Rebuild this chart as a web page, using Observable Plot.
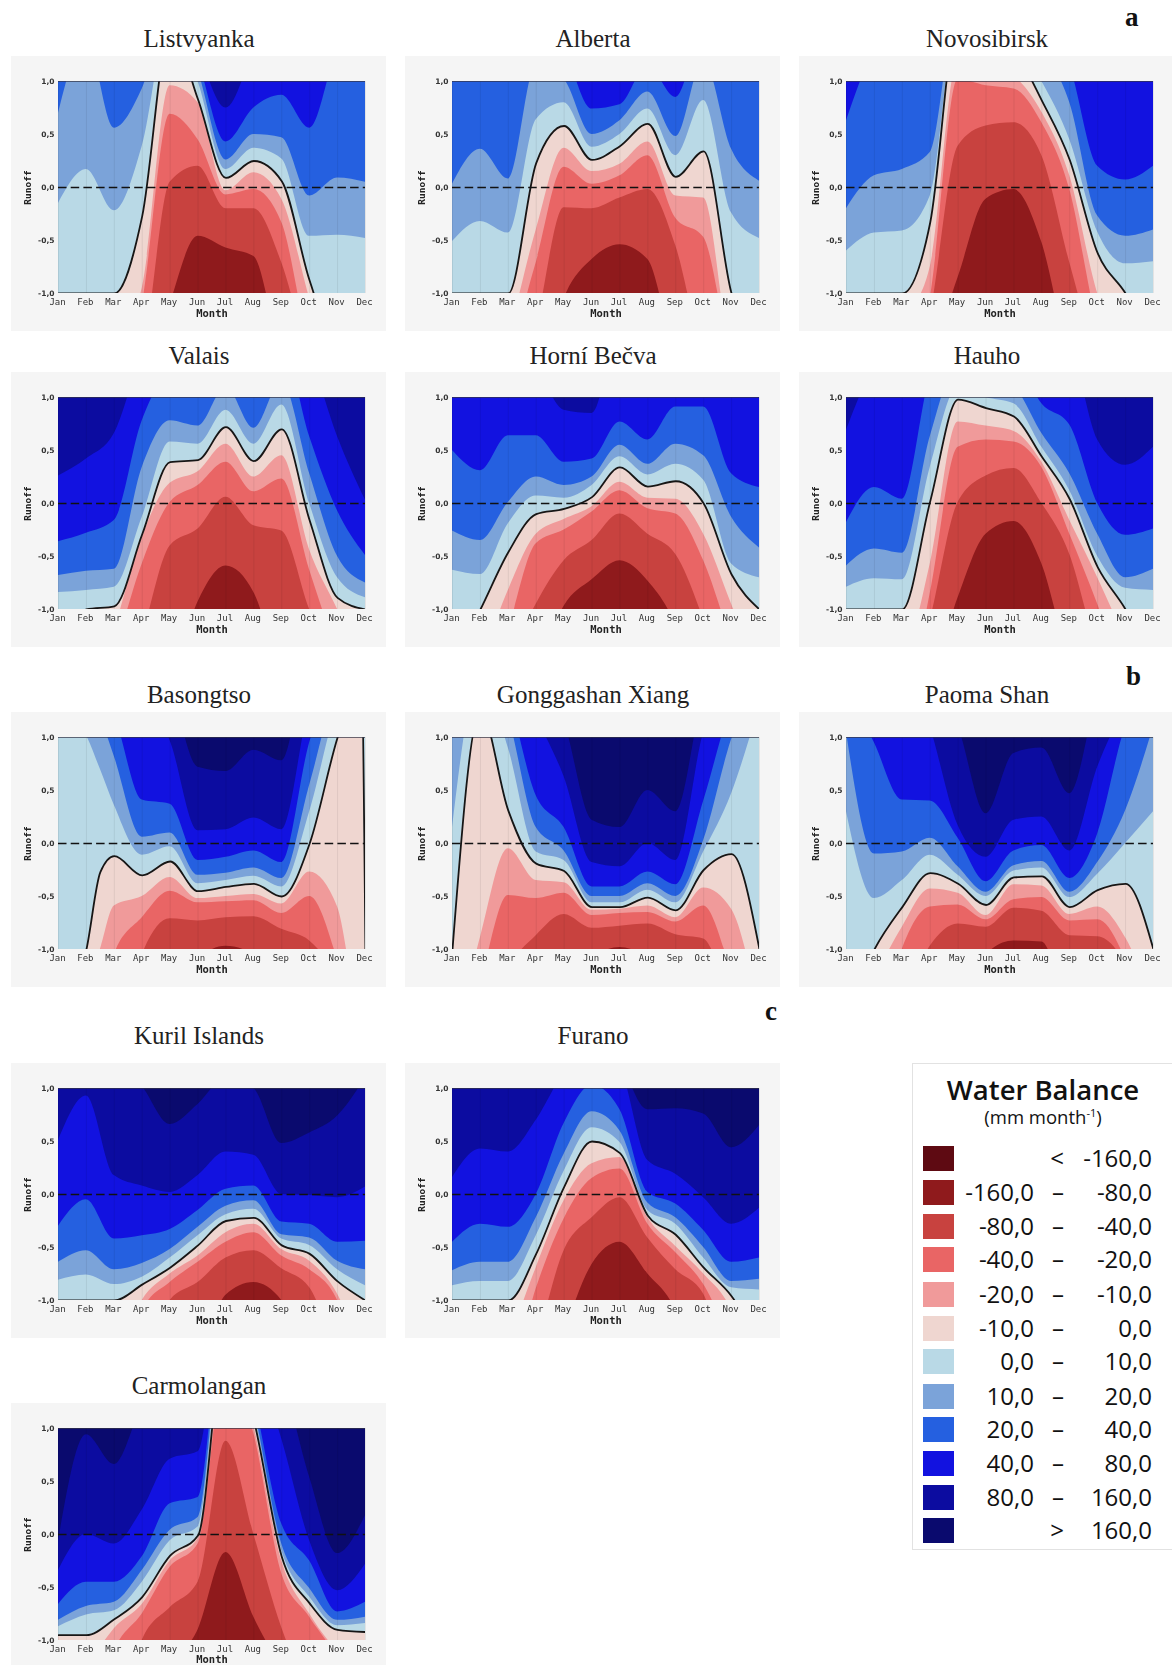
<!DOCTYPE html>
<html>
<head>
<meta charset="utf-8">
<script src="https://cdn.jsdelivr.net/npm/d3@7"></script>
<script src="https://cdn.jsdelivr.net/npm/@observablehq/plot@0.6"></script>
<style>
html,body{margin:0;padding:0;background:#fff}
#page{position:relative;width:1172px;height:1665px;overflow:hidden;background:#fff}
.panel{position:absolute;filter:blur(.45px)}
.panel svg{max-width:none;display:block}
.title{position:absolute;width:376px;text-align:center;font:25px "Liberation Serif",serif;color:#222;line-height:30px}
.letter{position:absolute;font:bold 27px "Liberation Serif",serif;color:#111;line-height:30px}
#legend{position:absolute;left:912px;top:1063px;width:260px;height:487px;background:#fff;border:1px solid #e2e2e2;border-right:0;box-sizing:border-box;font-family:"Open Sans",sans-serif;color:#111}
#legend .h1{position:absolute;left:0;width:260px;text-align:center;top:10px;font-size:27.5px;font-weight:600;line-height:32px}
#legend .h2{position:absolute;left:0;width:260px;text-align:center;top:43px;font-size:18.5px;line-height:20px}
#legend sup{font-size:11px;line-height:0}
#legend .sw{position:absolute;left:10px;width:31px;height:25px}
#legend .t{position:absolute;font-size:24px;line-height:30px;white-space:pre}
</style>
</head>
<body>
<div id="page"></div>
<script>
const months = ["Jan","Feb","Mar","Apr","May","Jun","Jul","Aug","Sep","Oct","Nov","Dec"];
const monthIndex = [0,1,2,3,4,5,6,7,8,9,10,11];
const yTicks = [-1,-0.5,0,0.5,1];
const legendColors = ["#5e0a12","#8f1a1c","#c8423f","#e96565","#f09a9a","#efd6d0","#b9d9e6","#7ba3d9","#2560e0","#1212e0","#0c0ca0","#0a0a6e"];
const legendLow = ["","-160,0","-80,0","-40,0","-20,0","-10,0","0,0","10,0","20,0","40,0","80,0",""];
const legendHigh = ["-160,0","-80,0","-40,0","-20,0","-10,0","0,0","10,0","20,0","40,0","80,0","160,0","160,0"];
const legendSep = ["<","–","–","–","–","–","–","–","–","–","–",">"];

// each row: contour height per month for thresholds -80,-40,-20,-10,0,10,20,40,80,160 (absent rows lie above the frame)
const listvyanka = [
[-2,-2,-2,-2,-1.1,-.46,-.57,-.65,-1.6,-2,-2,-2],
[-2,-2,-2,-1.6,.05,.2,-.2,-.2,-.71,-1.6,-2,-2],
[-2,-2,-2,-1.1,.69,.45,-.07,-.02,-.33,-1.5,-2,-2],
[-2,-2,-1.5,-.95,.96,.8,-.03,.14,-.11,-1.05,-2,-2],
[-1,-1,-1,-.27,1.5,.83,.09,.25,.06,-.88,-1.5,-1.5],
[-.15,.17,-.22,.39,1.6,1.0,.17,.37,.27,-.46,-.45,-.48],
[.7,1.4,.56,.93,1.7,1.1,.26,.5,.47,-.08,.09,.05],
[1.6,1.6,1.6,1.6,1.8,1.2,.43,.75,.87,.56,1.3,1.6],
[2,2,2,2,2,1.3,.75,1.3,2,2,2,2]];
const alberta = [
[-2,-2,-2,-2,-1.05,-.68,-.54,-.68,-1.6,-2,-2,-2],
[-2,-2,-2,-1.3,-.19,-.2,-.1,-.02,-.55,-1.6,-2,-2],
[-2,-2,-1.6,-.71,.19,.03,.11,.3,-.29,-.47,-1.6,-2],
[-2,-2,-1.4,-.4,.37,.15,.22,.43,-.08,-.1,-1.6,-2],
[-1,-1,-1,.23,.58,.26,.39,.6,.1,.34,-1,-1.5],
[-.51,-.32,-.43,.64,.8,.38,.5,.74,.3,.82,-.24,-.48],
[.03,.36,.08,1.15,1.02,.5,.63,.9,.48,1.2,.36,.06],
[1.6,1.6,1.6,1.6,1.3,.74,.78,1.15,.85,1.5,1.6,1.6]];
const novosibirsk = [
[-2,-2,-2,-1.6,-.85,-.11,-.02,-.52,-1.6,-2,-2,-2],
[-2,-2,-2,-1.2,.39,.58,.61,.3,-.71,-1.6,-2,-2],
[-2,-2,-2,-1.05,1.02,.96,.93,.61,-.02,-1.3,-2,-2],
[-2,-2,-1.3,-.75,1.2,1.15,1.05,.71,.11,-1,-1.6,-2],
[-1,-1,-1,-.33,1.6,1.5,1.3,.82,.26,-.62,-1,-1.5],
[-.6,-.43,-.41,-.08,1.6,1.5,1.4,1,.45,-.42,-.72,-.7],
[-.2,.11,.17,.33,1.7,1.6,1.5,1.3,.8,-.27,-.46,-.4],
[.63,1.3,1.6,1.6,1.9,1.8,1.7,1.6,1.15,.2,.07,.2]];
const valais = [
[-2,-2,-2,-2,-1.7,-.93,-.59,-.84,-1.6,-2,-2,-2],
[-2,-2,-2,-1.25,-.4,-.24,.06,-.21,-.26,-1,-1.6,-2],
[-2,-2,-1.4,-.57,.01,.17,.39,.11,.23,-.63,-1.4,-2],
[-2,-2,-1.2,-.32,.19,.3,.56,.25,.45,-.44,-1,-1.6],
[-1.3,-1,-.97,-.29,.39,.41,.72,.4,.7,-.16,-.89,-1],
[-.84,-.82,-.79,-.13,.58,.56,.88,.56,.93,0,-.7,-.89],
[-.68,-.64,-.62,.34,.78,.73,1.1,.71,1.15,.28,-.5,-.75],
[-.36,-.28,-.16,.78,1.2,1.2,1.4,1.2,1.5,.63,-.07,-.49],
[.26,.42,.66,1.4,1.8,1.8,1.8,1.8,1.8,1.4,.63,.03]];
const horniBecva = [
[-2,-2,-2,-1.6,-.97,-.72,-.54,-.73,-1.15,-2,-2,-2],
[-2,-2,-1.5,-.95,-.54,-.35,-.1,-.29,-.48,-1.1,-2,-2],
[-2,-2,-1.2,-.38,-.25,-.08,.12,-.05,-.1,-.54,-1.3,-2],
[-2,-1.5,-.82,-.29,-.15,-.03,.2,.05,.04,-.29,-.95,-1.6],
[-1.5,-1,-.46,-.1,-.05,.06,.34,.16,.21,0,-.67,-1],
[-.63,-.67,-.19,.07,.05,.17,.44,.27,.37,.22,-.57,-.7],
[-.26,-.35,.01,.25,.17,.25,.55,.37,.56,.45,-.13,-.42],
[.5,.31,.64,.64,.39,.42,.77,.6,.91,.91,.28,.15],
[1.6,1.6,1.6,1.3,.88,.85,1.6,1.6,1.6,1.6,1.6,1.6]];
const hauho = [
[-2,-2,-2,-1.7,-.89,-.29,-.17,-.57,-1.5,-2,-2,-2],
[-2,-2,-2,-1.1,.01,.26,.33,0,-.48,-1.4,-2,-2],
[-2,-2,-2,-.85,.53,.6,.58,.34,-.29,-.95,-1.7,-2],
[-2,-2,-1.6,-.57,.77,.73,.68,.39,-.16,-.7,-1.3,-2],
[-1,-1,-1,.02,.98,.9,.82,.44,.04,-.6,-1,-1.5],
[-.79,-.71,-.72,.34,1.1,1,.94,.53,.12,-.5,-.8,-.82],
[-.59,-.43,-.47,.63,1.3,1.2,1.1,.66,.28,-.29,-.7,-.62],
[-.18,.15,.04,1.2,1.6,1.5,1.4,.94,.74,0,-.3,-.24],
[.69,1.3,1.6,1.7,1.8,1.8,1.8,1.7,1.5,.6,.36,.53]];
const basongtsoX = [0,1,1.5,2,3,4,5,6,7,8,9,10,10.85,11];
const basongtso = [
[-2,-2,-2,-2,-2,-2,-1.1,-.97,-1.05,-2,-2,-2,-2,-2],
[-2,-2,-2,-2,-1.05,-.71,-.73,-.7,-.69,-.81,-.92,-1.3,-2,-2],
[-2,-2,-2,-1.05,-.7,-.45,-.56,-.55,-.54,-.66,-.5,-1.1,-2,-2],
[-2,-1.4,-1,-.59,-.5,-.32,-.52,-.5,-.48,-.57,-.27,-.6,-1.6,-1.6],
[-1.6,-1,-.27,-.12,-.3,-.17,-.45,-.41,-.38,-.5,0,1,1.6,-1.05],
[1.3,1.02,.7,.36,-.11,-.03,-.38,-.35,-.31,-.41,.3,1.3,1.7,1.2],
[1.5,1.5,1.2,.82,.06,.1,-.3,-.28,-.23,-.33,.55,1.5,1.8,1.4],
[1.6,1.6,1.4,1.2,.41,.37,-.16,-.13,-.07,-.18,.95,1.6,1.9,1.5],
[1.8,1.8,1.8,1.8,1.4,.97,.12,.13,.24,.13,1.3,1.8,1.9,1.6],
[2,2,2,2,2,1.5,.72,.68,.88,.78,1.8,2,2,2]];
const gonggashan = [
[-2,-2,-2,-2,-2,-1.1,-.98,-1.1,-2,-2,-2,-2],
[-2,-2,-1.2,-.87,-.67,-.8,-.78,-.76,-.86,-.9,-1.5,-2],
[-2,-1.3,-.49,-.52,-.47,-.68,-.66,-.65,-.74,-.59,-1.2,-2],
[-2,-.89,-.05,-.35,-.37,-.63,-.62,-.59,-.7,-.42,-.62,-1.6],
[-1,1.25,.31,-.19,-.26,-.6,-.6,-.51,-.63,-.25,-.1,-1],
[.15,1.6,.9,-.08,-.16,-.56,-.56,-.44,-.56,-.08,.47,1.3],
[1.5,1.8,1.2,.15,-.07,-.5,-.5,-.38,-.5,.03,.98,1.6],
[1.7,1.9,1.4,.45,.15,-.41,-.41,-.27,-.39,.4,1.3,1.8],
[1.8,2,1.8,1.2,.63,-.18,-.22,0,-.16,1.05,1.6,1.9],
[2,2,2,1.6,1.15,.22,.15,.5,.3,1.4,1.8,2]];
const paomaShan = [
[-2,-2,-2,-2,-1.8,-1.05,-.92,-.93,-1.6,-2,-2,-2],
[-2,-2,-1.5,-.97,-.76,-.79,-.61,-.64,-.87,-.88,-1.15,-2],
[-2,-2,-1,-.6,-.58,-.72,-.53,-.51,-.73,-.72,-1.1,-2],
[-2,-1.3,-.79,-.43,-.47,-.68,-.39,-.4,-.67,-.6,-.89,-1.5],
[-1.6,-1,-.6,-.28,-.38,-.58,-.32,-.31,-.6,-.44,-.38,-1],
[.3,-.52,-.35,-.11,-.3,-.5,-.26,-.23,-.51,-.29,0,.3],
[1.05,-.1,-.08,.05,-.22,-.46,-.21,-.17,-.46,-.18,.31,1.1],
[1.5,.95,.41,.4,.05,-.36,-.07,-.02,-.33,.09,1.1,1.5],
[1.8,1.8,1.8,1.1,.17,-.13,.22,.25,-.07,.72,1.3,1.8],
[2,2,2,1.5,1.1,.28,.85,.9,.47,1.4,2,2]];
const kuril = [
[-2,-2,-2,-2,-2,-1.6,-.95,-.83,-1,-2,-2,-2],
[-2,-2,-2,-1.8,-1,-.83,-.6,-.53,-.7,-.88,-1.5,-2],
[-2,-2,-2,-1.1,-.83,-.64,-.45,-.36,-.58,-.71,-1,-2],
[-2,-2,-1.6,-1,-.75,-.58,-.36,-.28,-.52,-.63,-.94,-1.6],
[-1,-1,-1,-.85,-.69,-.48,-.25,-.22,-.48,-.56,-.82,-1],
[-.81,-.76,-.85,-.78,-.6,-.39,-.19,-.14,-.42,-.48,-.71,-.86],
[-.64,-.53,-.71,-.65,-.52,-.31,-.11,-.06,-.38,-.41,-.63,-.71],
[-.3,-.05,-.42,-.39,-.33,-.15,.05,.08,-.26,-.28,-.45,-.44],
[.51,.93,.18,.08,.02,.18,.4,.37,0,-.01,-.03,.07],
[1.6,1.6,1.3,1.02,.66,.85,1.1,1,.48,.58,.74,1.1]];
const furano = [
[-2,-2,-2,-2,-1.3,-.66,-.45,-.75,-1.1,-2,-2,-2],
[-2,-2,-2,-1.4,-.53,-.22,-.03,-.41,-.71,-.94,-1.8,-2],
[-2,-2,-1.8,-.89,-.23,.15,.24,-.28,-.55,-.85,-1.4,-2],
[-2,-2,-1.4,-.69,-.06,.29,.35,-.22,-.49,-.75,-1.1,-2],
[-1,-1,-1,-.56,.07,.5,.39,-.2,-.38,-.69,-.96,-1.4],
[-.86,-.82,-.82,-.39,.22,.63,.49,-.15,-.28,-.6,-.88,-.9],
[-.72,-.64,-.64,-.22,.38,.78,.6,-.08,-.22,-.5,-.82,-.8],
[-.45,-.28,-.31,0,.67,1.03,.8,.02,-.09,-.34,-.64,-.6],
[.16,.43,.4,.7,1.15,1.4,1.2,.32,.19,-.03,-.28,-.13],
[2,2,2,2,2,2,1.3,.8,.81,.76,.44,.65]];
const carmolangan = [
[-2,-2,-2,-2,-1.3,-.9,-.17,-.78,-1.3,-2,-2,-2],
[-2,-2,-2,-1,-.69,-.45,.88,0,-.88,-1.5,-2,-2],
[-2,-2,-1.1,-.75,-.31,-.09,1.6,.95,-.37,-.78,-1.2,-2],
[-2,-1.3,-.89,-.66,-.25,-.04,1.8,1.02,-.25,-.75,-1.1,-1.3],
[-.95,-.95,-.8,-.59,-.2,-.01,1.9,1.08,-.21,-.65,-.9,-.92],
[-.87,-.76,-.72,-.45,-.06,.07,2,1.15,-.15,-.59,-.86,-.84],
[-.81,-.68,-.64,-.34,.04,.16,2.1,1.2,-.09,-.51,-.81,-.78],
[-.66,-.45,-.45,-.21,.29,.35,2.2,1.3,.1,-.25,-.73,-.64],
[-.34,0,-.09,.23,.71,.78,2.3,1.7,.9,-.06,-.53,-.28],
[-.06,.94,.66,1.2,1.5,2,2.4,2,1.5,.54,-.18,.18]];

const colX = [58,452,846];
const rowY = [81,397,737,1088,1428];
const panels = [
 {name:"Listvyanka",rows:listvyanka,c:0,r:0},
 {name:"Alberta",rows:alberta,c:1,r:0},
 {name:"Novosibirsk",rows:novosibirsk,c:2,r:0},
 {name:"Valais",rows:valais,c:0,r:1},
 {name:"Horní Bečva",rows:horniBecva,c:1,r:1},
 {name:"Hauho",rows:hauho,c:2,r:1},
 {name:"Basongtso",rows:basongtso,xs:basongtsoX,c:0,r:2},
 {name:"Gonggashan Xiang",rows:gonggashan,c:1,r:2},
 {name:"Paoma Shan",rows:paomaShan,c:2,r:2},
 {name:"Kuril Islands",rows:kuril,c:0,r:3},
 {name:"Furano",rows:furano,c:1,r:3},
 {name:"Carmolangan",rows:carmolangan,c:0,r:4}
];
const titleY = [24,341,680,1021,1371];
const page = document.getElementById("page");
const fmt = d => d.toFixed(1).replace(".",",");
const mono = "'DejaVu Sans Mono',monospace";

for (const p of panels) {
  const xs = p.xs || monthIndex;
  const last = p.r === 4;
  const mL=47, mT=25, mR=21, mB= last ? 25 : 38;
  const W = mL+307+mR, H = mT+212+mB;
  const marks = [Plot.areaY(xs.map(x=>({x,y:3})),{x:"x",y1:()=>-3,y2:"y",fill:legendColors[p.rows.length+1],clip:true})];
  for (let k=p.rows.length-1;k>=0;k--) {
    const d = xs.map((x,i)=>({x,y:p.rows[k][i]}));
    marks.push(Plot.areaY(d,{x:"x",y1:()=>-3,y2:"y",fill:legendColors[k+1],curve:"monotone-x",clip:true}));
  }
  marks.push(Plot.gridX(monthIndex,{stroke:"#000",strokeOpacity:.07,strokeWidth:1}));
  marks.push(Plot.line(xs.map((x,i)=>({x,y:p.rows[4][i]})),{x:"x",y:"y",stroke:"#161616",strokeWidth:1.8,curve:"monotone-x",clip:true}));
  marks.push(Plot.ruleY([0],{stroke:"#111",strokeWidth:1.6,strokeDasharray:"8.5,4.2"}));
  marks.push(Plot.ruleY([1],{stroke:"#334",strokeWidth:1,strokeOpacity:.7}));
  marks.push(Plot.axisX({ticks:monthIndex,tickFormat:i=>months[i],tickSize:0,tickPadding:5,label:null,fontSize:9,fontFamily:mono,fill:"#333",dx:-1}));
  marks.push(Plot.axisY({ticks:yTicks,tickFormat:fmt,tickSize:0,tickPadding:4,label:null,fontSize:7.5,fontFamily:"'DejaVu Sans',sans-serif",fontWeight:"bold",fill:"#333"}));
  marks.push(Plot.text(["Month"],{frameAnchor:"bottom",dy:last?19:20,lineAnchor:"middle",fontSize:10.5,fontWeight:"bold",fontFamily:mono,fill:"#222"}));
  marks.push(Plot.text(["Runoff"],{frameAnchor:"left",dx:-31,rotate:-90,textAnchor:"middle",fontSize:9.5,fontWeight:"bold",fontFamily:mono,fill:"#222"}));
  const svg = Plot.plot({
    width:W,height:H,marginLeft:mL,marginRight:mR,marginTop:mT,marginBottom:mB,
    style:{background:"#f5f5f5",overflow:"hidden",maxWidth:"none"},
    x:{domain:[0,11],axis:null},
    y:{domain:[-1,1],axis:null},
    marks
  });
  const holder = document.createElement("div");
  holder.className = "panel";
  holder.style.left = (colX[p.c]-mL)+"px";
  holder.style.top = (rowY[p.r]-mT)+"px";
  holder.style.width = W+"px";
  holder.style.height = H+"px";
  holder.appendChild(svg);
  page.appendChild(holder);
  const t = document.createElement("div");
  t.className = "title";
  t.textContent = p.name;
  t.style.left = (colX[p.c]-mL)+"px";
  t.style.top = titleY[p.r]+"px";
  page.appendChild(t);
}
for (const [s,x,y] of [["a",1125,2],["b",1126,661],["c",765,996]]) {
  const e = document.createElement("div");
  e.className = "letter"; e.textContent = s;
  e.style.left = x+"px"; e.style.top = y+"px";
  page.appendChild(e);
}
const lg = document.createElement("div");
lg.id = "legend";
lg.innerHTML = '<div class="h1">Water Balance</div><div class="h2">(mm month<sup>-1</sup>)</div>';
const cy = [1158,1192,1226,1259,1294,1328,1361,1396,1429,1463,1497,1530];
legendColors.forEach((c,i)=>{
  const top = cy[i]-1063;
  const sw = document.createElement("div");
  sw.className="sw"; sw.style.background=c; sw.style.top=(top-13)+"px";
  lg.appendChild(sw);
  const mk=(txt,right)=>{const t=document.createElement("div");t.className="t";t.textContent=txt;t.style.right=right+"px";t.style.top=(top-16)+"px";lg.appendChild(t);};
  if(legendLow[i]) mk(legendLow[i],1172-1034);
  mk(legendSep[i],1172-1064);
  mk(legendHigh[i],1172-1152);
});
page.appendChild(lg);
</script>
</body>
</html>
